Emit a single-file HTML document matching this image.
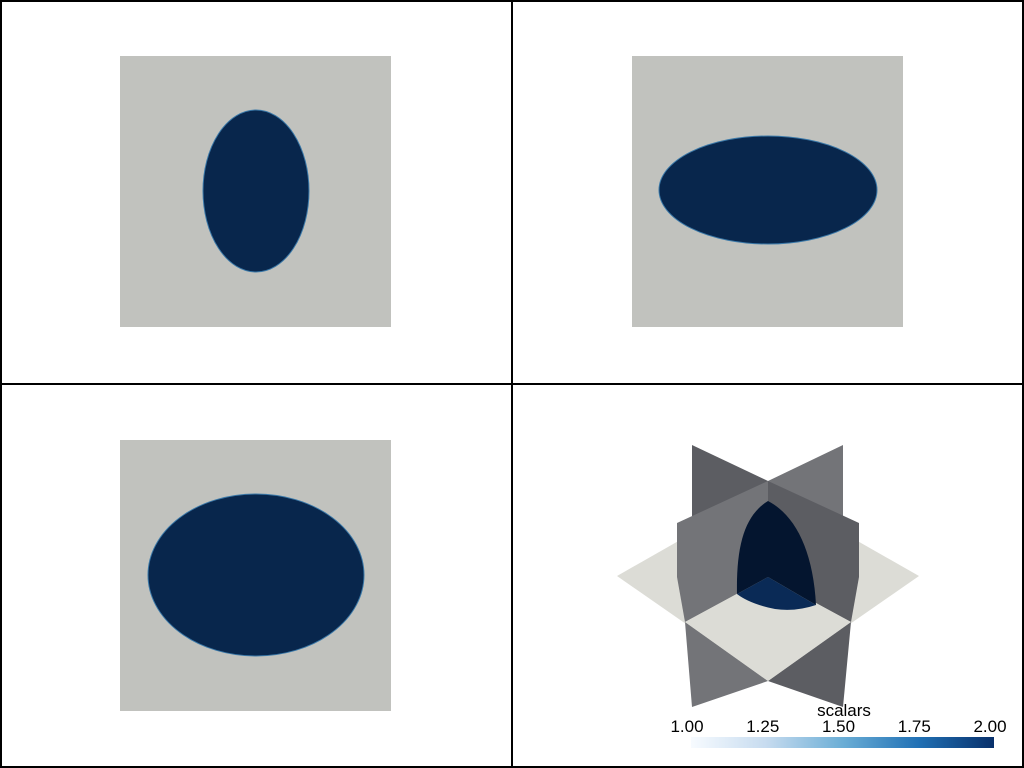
<!DOCTYPE html>
<html><head><meta charset="utf-8"><style>
html,body{margin:0;padding:0;background:#fff;width:1024px;height:768px;overflow:hidden}
svg{display:block}
text{font-family:"Liberation Sans",sans-serif;fill:#000}
</style></head><body>
<svg id="root" width="1024" height="768" viewBox="0 0 1024 768">
<defs>
<linearGradient id="blues" x1="0" x2="1" y1="0" y2="0">
<stop offset="0" stop-color="#f7fbff"/><stop offset="0.25" stop-color="#c6dbef"/>
<stop offset="0.5" stop-color="#6baed6"/><stop offset="0.75" stop-color="#2171b5"/>
<stop offset="1" stop-color="#08306b"/></linearGradient>
</defs>
<rect x="0" y="0" width="1024" height="768" fill="#fff"/>
<g>
<rect x="120" y="56" width="271" height="271" fill="#c1c2be"/>
<ellipse cx="256" cy="191" rx="53" ry="81" fill="#08264c" stroke="#3a78a8" stroke-width="1"/>
</g>
<g>
<rect x="632" y="56" width="271" height="271" fill="#c1c2be"/>
<ellipse cx="768" cy="190" rx="109" ry="54" fill="#08264c" stroke="#3a78a8" stroke-width="1"/>
</g>
<g>
<rect x="120" y="440" width="271" height="271" fill="#c1c2be"/>
<ellipse cx="256" cy="575" rx="108" ry="81" fill="#08264c" stroke="#3a78a8" stroke-width="1"/>
</g>
<g>
<polygon points="692,445 768,481 768,577 692,577" fill="#5c5d62"/>
<polygon points="843,445 768,481 768,577 843,577" fill="#737478"/>
<polygon points="617,576 768,490 919,576 768,681" fill="#dcdcd6"/>
<polygon points="685,622 692,707 768,681" fill="#737478"/>
<polygon points="851,622 843,707 768,681" fill="#5c5d62"/>
<polygon points="677,523 768,481 768,577 685,622 677,577" fill="#737478"/>
<polygon points="768,481 859,523 859,577 851,622 768,577" fill="#5c5d62"/>
<polygon points="685,622 768,577 851,622 768,681" fill="#dcdcd6"/>
<path d="M737,594 L768,577 L816,605 Q795,612 775,609 Q750,604 737,594 Z" fill="#0a2a56"/>
<path d="M737,594 C736,545 745,515 768,501 L768,577 Z" fill="#04152f"/>
<path d="M768,501 C795,515 813,550 816,605 L768,577 Z" fill="#04152f"/>
</g>
<g id="colorbar">
<text x="844" y="716" font-size="17" text-anchor="middle">scalars</text>
<rect x="691" y="737" width="303" height="11" fill="url(#blues)"/>
</g>
<g>
<rect x="1" y="1" width="1022" height="766" fill="none" stroke="#000" stroke-width="2"/>
<line x1="512" y1="0" x2="512" y2="768" stroke="#000" stroke-width="2"/>
<line x1="0" y1="384" x2="1024" y2="384" stroke="#000" stroke-width="2"/>
</g>
</svg>
<script>
const tickValues = [1.00, 1.25, 1.50, 1.75, 2.00];
const scalarMin = 1.0;
const scalarMax = 2.0;
const cb = document.getElementById('colorbar');
const x0 = 687, x1 = 990;
function xScale(v){ return x0 + (v - scalarMin) / (scalarMax - scalarMin) * (x1 - x0); }
tickValues.forEach(v => {
  const t = document.createElementNS('http://www.w3.org/2000/svg','text');
  t.setAttribute('x', xScale(v));
  t.setAttribute('y', 732);
  t.setAttribute('font-size', '17');
  t.setAttribute('text-anchor', 'middle');
  t.textContent = v.toFixed(2);
  
  
  cb.appendChild(t);
});
</script>
</body></html>
